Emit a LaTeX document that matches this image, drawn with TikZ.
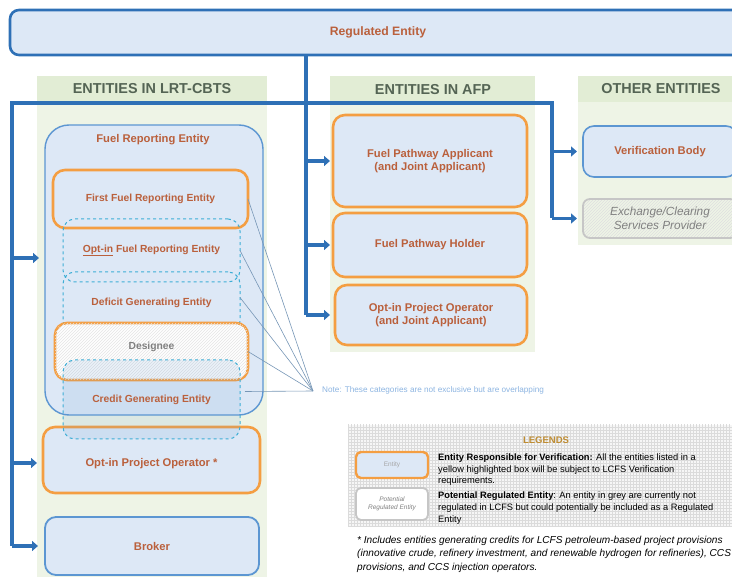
\documentclass[tikz,border=0pt]{standalone}
\usepackage{fontspec}
\setmainfont{Liberation Sans}
\usetikzlibrary{arrows.meta,patterns}

\definecolor{BusBlue}{RGB}{46,112,182}
\definecolor{BoxFill}{RGB}{221,232,246}
\definecolor{EdgeBlue}{RGB}{92,150,210}
\definecolor{VerifOrange}{RGB}{244,158,66}
\definecolor{DashCyan}{RGB}{62,174,214}
\definecolor{LabelText}{RGB}{186,96,60}
\definecolor{HeadText}{RGB}{84,100,84}
\definecolor{ColumnGreen}{RGB}{238,244,230}
\definecolor{HeadGreen}{RGB}{226,237,213}
\definecolor{FanBlue}{RGB}{118,150,182}
\definecolor{NoteBlue}{RGB}{140,180,225}
\definecolor{LegendGold}{RGB}{190,140,50}

\tikzset{
  box/.style={inner sep=0pt, outer sep=0pt, align=center, text=LabelText,
    font=\bfseries\fontsize{11.2}{13}\selectfont},
  inner/.style={font=\bfseries\fontsize{10.3}{12}\selectfont},
  RegBox/.style={box, draw=BusBlue, line width=2.6pt, fill=BoxFill,
    rounded corners=9pt, font=\bfseries\fontsize{12.2}{14}\selectfont},
  BlueBox/.style={box, draw=EdgeBlue, line width=1.4pt, fill=BoxFill, rounded corners=11pt},
  VerifBox/.style={box, draw=VerifOrange, line width=2.6pt, fill=BoxFill, rounded corners=12pt},
  OverlapBox/.style={box, draw=DashCyan, dashed, line width=1pt, rounded corners=12pt},
  PotentialBox/.style={box, draw=gray!45, line width=1.8pt, rounded corners=7pt,
    pattern=north east lines, pattern color=gray!25, text=gray,
    font=\itshape\fontsize{11.8}{13.5}\selectfont},
  ColumnHead/.style={text=HeadText, font=\bfseries\fontsize{14.4}{16}\selectfont},
  LegendText/.style={anchor=north west, inner sep=0pt, align=left,
    font=\fontsize{9.3}{11.6}\selectfont},
  Bus/.style={draw=BusBlue, line width=3.6pt},
  Feed/.style={Bus, -{Triangle[length=6pt,width=10pt]}},
  Fan/.style={draw=FanBlue, line width=0.6pt}
}

\begin{document}
\begin{tikzpicture}[x=1pt,y=-1pt]
\useasboundingbox (0,0) rectangle (732,577);

% Columns
\fill[ColumnGreen] (37,76) rectangle (267,580);
\fill[ColumnGreen] (330,76) rectangle (535,352);
\fill[ColumnGreen] (578,76) rectangle (740,245);
\fill[HeadGreen] (37,76) rectangle (267,102);
\fill[HeadGreen] (330,76) rectangle (535,102);
\fill[HeadGreen] (578,76) rectangle (740,102);
\node[ColumnHead] (headA) at (152,89) {ENTITIES IN LRT-CBTS};
\node[ColumnHead] (headB) at (433,90) {ENTITIES IN AFP};
\node[ColumnHead] (headC) at (661,89) {OTHER ENTITIES};

% Top box
\node[RegBox, minimum width=736pt, minimum height=45pt] (reg) at (378,32.5) {Regulated Entity};

% Entities in LRT-CBTS
\node[BlueBox, minimum width=218pt, minimum height=290pt, rounded corners=24pt] (fre) at (154,270) {};
\node[box] (freT) at (153,140) {Fuel Reporting Entity};
\node[VerifBox, inner, minimum width=195pt, minimum height=58pt] (ffre) at (150.5,199) {First Fuel Reporting Entity};
\node[OverlapBox, inner, minimum width=177pt, minimum height=63pt] (ofre) at (151.5,250.5) {\underline{Opt-in} Fuel Reporting Entity};
\node[OverlapBox, inner, minimum width=177pt, minimum height=61pt] (dge) at (151.5,302.5) {Deficit Generating Entity};
\node[VerifBox, fill=white, minimum width=193pt, minimum height=57pt,
  postaction={pattern=north east lines, pattern color=gray!20}] (des) at (151.5,351.5) {};
\node[VerifBox, minimum width=217pt, minimum height=66pt] (opo) at (151.5,460) {};
\node[OverlapBox, inner, fill=EdgeBlue, fill opacity=0.12, text opacity=1,
  minimum width=177pt, minimum height=79pt] (cge) at (151.5,399.5) {Credit Generating Entity};
\node[box, inner, text=gray] (desT) at (151.5,347) {Designee};
\node[box] (opoT) at (151.5,464) {Opt-in Project Operator *};
\node[BlueBox, line width=1.8pt, minimum width=214pt, minimum height=58pt] (broker) at (152,546) {Broker};

% Entities in AFP
\node[VerifBox, minimum width=194pt, minimum height=92pt] (fpa) at (430,161) {Fuel Pathway Applicant\\(and Joint Applicant)};
\node[VerifBox, minimum width=194pt, minimum height=64pt] (fph) at (430,245) {Fuel Pathway Holder};
\node[VerifBox, minimum width=192pt, minimum height=60pt] (opoB) at (431,315) {Opt-in Project Operator\\(and Joint Applicant)};

% Other entities
\node[BlueBox, line width=1.6pt, minimum width=154pt, minimum height=51pt] (vb) at (660,151.5) {Verification Body};
\node[PotentialBox, minimum width=154pt, minimum height=39pt] (ecs) at (660,218.5) {Exchange/Clearing\\Services Provider};

% Connectors
\coordinate (busL) at (12,103);
\coordinate (busM) at (306,103);
\coordinate (busR) at (552,103);
\draw[Bus] (reg.south -| busM) -- (busM |- opoB.west);
\draw[Bus] (busL |- broker.west) -- (busL) -- (busR) -- (busR |- ecs.west);
\draw[Feed, shorten >=6pt] (busL |- fre.west) ++(0,-12) -- ([yshift=12pt]fre.west);
\draw[Feed, shorten >=6pt] (busL |- opo.west) ++(0,3) -- ([yshift=-3pt]opo.west);
\draw[Feed, shorten >=7pt] (busL |- broker.west) -- (broker.west);
\draw[Feed, shorten >=3pt] (busM |- fpa.west) -- (fpa.west);
\draw[Feed, shorten >=3pt] (busM |- fph.west) -- (fph.west);
\draw[Feed, shorten >=5pt] (busM |- opoB.west) -- (opoB.west);
\draw[Feed, shorten >=6pt] (busR |- vb.west) -- (vb.west);
\draw[Feed, shorten >=6pt] (busR |- ecs.west) -- (ecs.west);

% Note on overlapping categories
\coordinate (fanPt) at (313,391);
\draw[Fan] (ffre.east) -- (fanPt);
\draw[Fan] (ofre.east) -- (fanPt);
\draw[Fan] ([yshift=5pt]dge.east) -- (fanPt);
\draw[Fan] (des.east) -- (fanPt);
\draw[Fan] ([xshift=5pt,yshift=8pt]cge.east) -- (fanPt);
\node[anchor=west, inner sep=0pt, text=NoteBlue, font=\fontsize{8.2}{9}\selectfont] (note) at (322,390)
  {Note: These categories are not exclusive but are overlapping};

% Legend
\fill[gray!7] (348,425) rectangle (740,527);
\fill[pattern=grid, pattern color=gray!28] (348,425) rectangle (740,527);
\node[text=LegendGold, font=\bfseries\fontsize{9.5}{11}\selectfont] (legT) at (546,440) {LEGENDS};
\node[VerifBox, line width=2.4pt, rounded corners=5pt, minimum width=72pt, minimum height=26pt,
  text=gray!70, font=\fontsize{6.5}{7}\selectfont] (legA) at (392,465) {Entity};
\node[PotentialBox, fill=white, rounded corners=5pt, minimum width=72pt, minimum height=32pt,
  font=\itshape\fontsize{6.5}{8}\selectfont] (legB) at (392,504) {Potential\\Regulated Entity};
\node[LegendText] (legAT) at (438,453.5)
  {\textbf{Entity Responsible for Verification:} All the entities listed in a\\
   yellow highlighted box will be subject to LCFS Verification\\requirements.};
\node[LegendText] (legBT) at (438,492)
  {\textbf{Potential Regulated Entity}: An entity in grey are currently not\\
   regulated in LCFS but could potentially be included as a Regulated\\Entity};

% Footnote
\node[anchor=north west, inner sep=0pt, align=left, font=\itshape\fontsize{10.1}{13.8}\selectfont] (foot) at (357,535.5)
  {* Includes entities generating credits for LCFS petroleum-based project provisions\\
   (innovative crude, refinery investment, and renewable hydrogen for refineries), CCS\\
   provisions, and CCS injection operators.};
\end{tikzpicture}
\end{document}
